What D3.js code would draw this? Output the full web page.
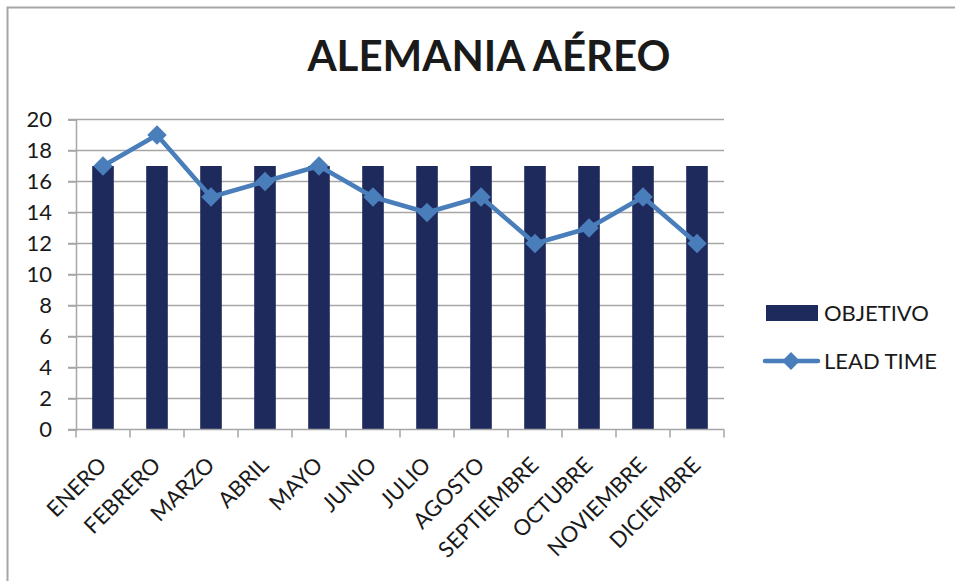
<!DOCTYPE html>
<html>
<head>
<meta charset="utf-8">
<script src="https://cdn.jsdelivr.net/npm/d3@7"></script>
<style>
  html, body { margin: 0; padding: 0; background: #fff; }
  svg { display: block; font-family: Lato, "Open Sans", sans-serif; }
</style>
</head>
<body>
<svg id="chart" width="955" height="581"></svg>
<script>
// Monthly values
const months = ["ENERO", "FEBRERO", "MARZO", "ABRIL", "MAYO", "JUNIO", "JULIO",
  "AGOSTO", "SEPTIEMBRE", "OCTUBRE", "NOVIEMBRE", "DICIEMBRE"];
const objetivo = [17, 17, 17, 17, 17, 17, 17, 17, 17, 17, 17, 17];
const leadTime = [17, 19, 15, 16, 17, 15, 14, 15, 12, 13, 15, 12];
const yTicks = [0, 2, 4, 6, 8, 10, 12, 14, 16, 18, 20];

const svg = d3.select("#chart");
const barColor = "#1F2A5C";
const lineColor = "#4A7EBB";
const gridColor = "#A6A6A6";
const textColor = "#1a1a1a";

// outer frame
svg.append("path")
  .attr("d", "M7.5,600 V7.5 H960")
  .attr("fill", "none").attr("stroke", gridColor).attr("stroke-width", 2);

const plotLeft = 76, plotRight = 724, plotTop = 119.5, plotBottom = 429.5;

const x = d3.scaleBand().domain(months).range([plotLeft, plotRight]).paddingInner(0).paddingOuter(0);
const y = d3.scaleLinear().domain([0, 20]).range([plotBottom, plotTop]);

// title
svg.append("text")
  .attr("x", 489).attr("y", 71)
  .attr("text-anchor", "middle")
  .attr("font-weight", "bold").attr("font-size", 42)
  .attr("fill", textColor)
  .text("ALEMANIA AÉREO");

// horizontal gridlines
svg.append("g").selectAll("line").data(yTicks.filter(d => d > 0)).join("line")
  .attr("x1", plotLeft - 8).attr("x2", plotRight)
  .attr("y1", d => y(d)).attr("y2", d => y(d))
  .attr("stroke", gridColor).attr("stroke-width", 1.5);

// y axis
const yAxis = svg.append("g").attr("transform", `translate(${plotLeft},0)`)
  .call(d3.axisLeft(y).tickValues(yTicks).tickSize(8).tickPadding(16));
yAxis.select(".domain").attr("stroke", gridColor).attr("stroke-width", 1.5);
yAxis.selectAll(".tick line").attr("stroke", gridColor).attr("stroke-width", 1.5);
yAxis.selectAll(".tick text").attr("font-size", 22).attr("fill", textColor)
  .attr("font-family", "Lato, sans-serif");

// bars
const barW = x.bandwidth() * 0.4;
svg.append("g").selectAll("rect").data(objetivo).join("rect")
  .attr("x", (d, i) => x(months[i]) + (x.bandwidth() - barW) / 2)
  .attr("width", barW)
  .attr("y", d => y(d))
  .attr("height", d => plotBottom - y(d))
  .attr("fill", barColor);

// x axis
const xAxisG = svg.append("g").attr("transform", `translate(0,${plotBottom})`);
xAxisG.append("line").attr("x1", plotLeft - 8).attr("x2", plotRight)
  .attr("stroke", gridColor).attr("stroke-width", 1.5);
const tickPos = months.map(m => x(m)).concat([plotRight]);
xAxisG.selectAll("line.tk").data(tickPos).join("line").attr("class", "tk")
  .attr("x1", d => d).attr("x2", d => d).attr("y1", 0).attr("y2", 8)
  .attr("stroke", gridColor).attr("stroke-width", 1.5);
xAxisG.selectAll("text").data(months).join("text")
  .attr("transform", d => `translate(${x(d) + x.bandwidth() / 2 + 5},${37}) rotate(-45)`)
  .attr("text-anchor", "end")
  .attr("font-size", 22).attr("fill", textColor)
  .text(d => d);

// lead time line
const cx = i => x(months[i]) + x.bandwidth() / 2;
const line = d3.line().x((d, i) => cx(i)).y(d => y(d));
svg.append("path").datum(leadTime)
  .attr("d", line).attr("fill", "none")
  .attr("stroke", lineColor).attr("stroke-width", 4.5).attr("stroke-linejoin", "round");

svg.append("g").selectAll("path").data(leadTime).join("path")
  .attr("d", d3.symbol().type(d3.symbolSquare).size(190))
  .attr("transform", (d, i) => `translate(${cx(i)},${y(d)}) rotate(45)`)
  .attr("fill", lineColor);

// legend
const lg = svg.append("g");
lg.append("rect").attr("x", 766).attr("y", 305).attr("width", 52).attr("height", 16).attr("fill", barColor);
lg.append("text").attr("x", 824).attr("y", 321).attr("font-size", 22).attr("fill", textColor).text("OBJETIVO");
lg.append("line").attr("x1", 765).attr("x2", 818).attr("y1", 361).attr("y2", 361)
  .attr("stroke", lineColor).attr("stroke-width", 4.5).attr("stroke-linecap", "round");
lg.append("path").attr("d", d3.symbol().type(d3.symbolSquare).size(160))
  .attr("transform", "translate(791,361) rotate(45)").attr("fill", lineColor);
lg.append("text").attr("x", 824).attr("y", 369).attr("font-size", 22).attr("fill", textColor).text("LEAD TIME");
</script>
</body>
</html>
